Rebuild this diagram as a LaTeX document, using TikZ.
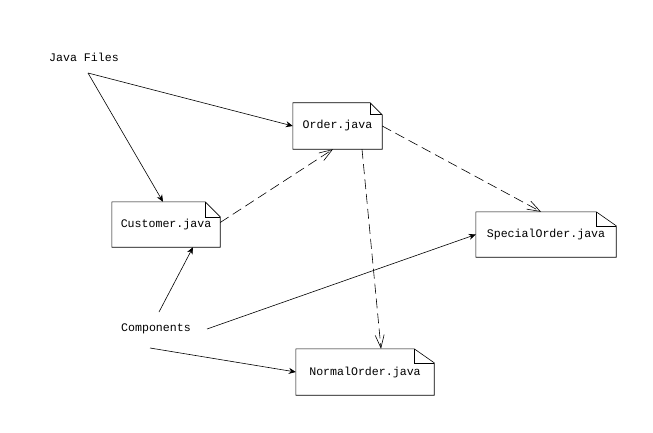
\documentclass[tikz,border=0pt]{standalone}
\usepackage{fontspec}
\setmainfont{Liberation Mono}
\usetikzlibrary{arrows.meta}
\begin{document}
\begin{tikzpicture}[x=1pt,y=-1pt,
  lbl/.style={font=\fontsize{11.6}{14}\selectfont, inner sep=0pt},
  note/.style={lbl, minimum height=46pt},
  outline/.style={line width=0.6pt},
  solidarrow/.style={-{Stealth[length=7pt,width=6pt]}, line width=0.6pt},
  deparrow/.style={-{Straight Barb[length=13pt,width=9pt,line width=0.6pt]}, dash pattern=on 10pt off 5pt, line width=0.6pt}]
\useasboundingbox (0,0) rectangle (653,433);
% labels
\node[lbl] (jf) at (84,57) {Java Files};
\node[lbl] (comp) at (156,329) {Components};
% notes
\node[note, minimum width=89pt] (order) at (337.5,126) {Order.java};
\node[note, minimum width=108pt, minimum height=45pt] (cust) at (166,224.5) {Customer.java};
\node[note, minimum width=140pt, minimum height=45pt] (spec) at (546,234.5) {SpecialOrder.java};
\node[note, minimum width=138pt] (norm) at (365,372) {NormalOrder.java};
\foreach \n/\f/\g in {order/12/12, cust/15/15, spec/20/14, norm/20/14}{
  \draw[outline] (\n.north west) -- ([xshift=-\f pt]\n.north east) -- ([yshift=-\g pt]\n.north east)
     -- (\n.south east) -- (\n.south west) -- cycle;
  \draw[outline] ([xshift=-\f pt]\n.north east) -- ([xshift=-\f pt, yshift=-\g pt]\n.north east) -- ([yshift=-\g pt]\n.north east);
}
% free ends
\coordinate (jfo) at (88,73);
\coordinate (co1) at (159,312);
\coordinate (co2) at (207,329);
\coordinate (co3) at (150,348);
% connectors
\draw[solidarrow] (jfo) -- (order.west);
\draw[solidarrow] (jfo) -- ([xshift=-3pt]cust.north);
\draw[deparrow] ([yshift=2pt]cust.east) -- ([xshift=-4.5pt]order.south);
\draw[deparrow] (order.east) -- ([xshift=-5pt]spec.north);
\draw[deparrow] ([xshift=24.5pt]order.south) -- ([xshift=16pt]norm.north);
\draw[solidarrow] (co1) -- ([xshift=27pt]cust.south);
\draw[solidarrow] (co2) -- (spec.west);
\draw[solidarrow] (co3) -- (norm.west);
\end{tikzpicture}
\end{document}
